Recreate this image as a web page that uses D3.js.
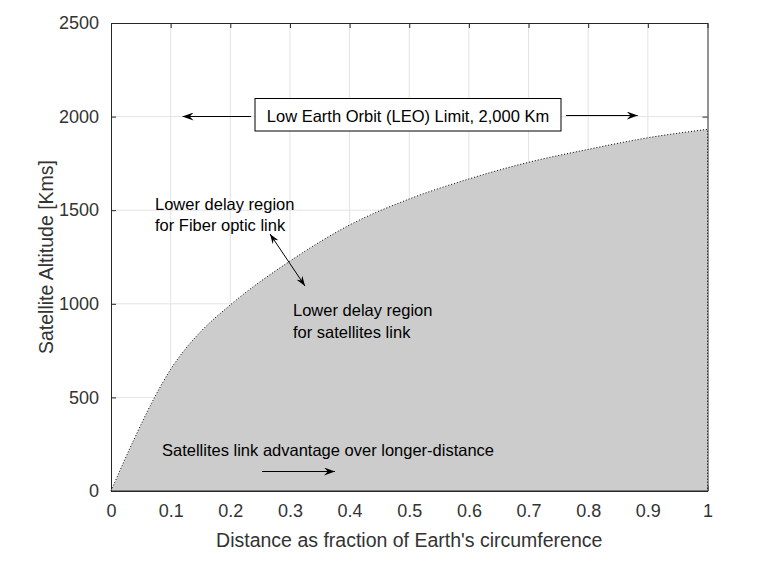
<!DOCTYPE html>
<html>
<head>
<meta charset="utf-8">
<script src="https://cdn.jsdelivr.net/npm/d3@7"></script>
<style>
  body { margin: 0; background: #fff; }
  svg { display: block; font-family: "Liberation Sans", Arial, sans-serif; }
</style>
</head>
<body>
<svg></svg>
<script>
// curve values
let distFrac = [0, 0.037, 0.073, 0.1, 0.125, 0.15, 0.2, 0.3, 0.4, 0.5, 0.6, 0.7, 0.8, 0.9, 1.0]
let altitude = [0, 265, 500, 650, 760, 850, 994, 1228, 1421, 1560, 1667, 1756, 1825, 1887, 1932]

let xTicks = [0, 0.1, 0.2, 0.3, 0.4, 0.5, 0.6, 0.7, 0.8, 0.9, 1]
let yTicks = [0, 500, 1000, 1500, 2000, 2500]

let width = 766
let height = 575
let margin = {left: 111, right: 58.5, top: 23, bottom: 84}

let axisColor = '#262626'
let labelColor = '#333333'
let gridColor = '#e3e3e3'

let svg = d3.select('svg')
  .attr('width', width)
  .attr('height', height)

let xScale = d3.scaleLinear()
  .domain([0, 1])
  .range([margin.left, width - margin.right])

let yScale = d3.scaleLinear()
  .domain([0, 2500])
  .range([height - margin.bottom, margin.top])

let x0 = xScale(0), x1 = xScale(1)
let y0 = yScale(0), y1 = yScale(2500)

// arrow heads
let defs = svg.append('defs')
let addHead = (id, len, half) => {
  defs.append('marker')
    .attr('id', id)
    .attr('viewBox', `0 ${-half} ${len} ${2 * half}`)
    .attr('refX', len)
    .attr('refY', 0)
    .attr('markerUnits', 'userSpaceOnUse')
    .attr('markerWidth', len)
    .attr('markerHeight', 2 * half)
    .attr('orient', 'auto-start-reverse')
    .append('path')
    .attr('d', `M0,${-half} L${len},0 L0,${half} L${len * 0.35},0 Z`)
    .attr('fill', '#000')
}
addHead('headBig', 11, 4)
addHead('headSmall', 10, 3.5)

// grid
let grid = svg.append('g')
grid.selectAll('.gx')
  .data(xTicks.slice(1, -1))
  .enter()
  .append('line')
  .attr('x1', d => xScale(d)).attr('x2', d => xScale(d))
  .attr('y1', y0).attr('y2', y1)
  .attr('stroke', gridColor)
grid.selectAll('.gy')
  .data(yTicks.slice(1, -1))
  .enter()
  .append('line')
  .attr('x1', x0).attr('x2', x1)
  .attr('y1', d => yScale(d)).attr('y2', d => yScale(d))
  .attr('stroke', gridColor)

// axes, ticks inward
let tickFmt = d => d3.format('')(d)
let styleAxis = (g, labels) => {
  g.selectAll('.domain').attr('stroke', axisColor)
  g.selectAll('.tick line').attr('stroke', axisColor)
  g.selectAll('.tick text')
    .attr('fill', labelColor)
    .style('font-size', '18px')
    .style('display', labels ? null : 'none')
}

svg.append('g')
  .attr('transform', `translate(0,${y1})`)
  .call(d3.axisTop(xScale).tickValues(xTicks).tickSizeInner(-5).tickSizeOuter(0))
  .call(g => styleAxis(g, false))

svg.append('g')
  .attr('transform', `translate(${x1},0)`)
  .call(d3.axisRight(yScale).tickValues(yTicks).tickSizeInner(-5).tickSizeOuter(0))
  .call(g => styleAxis(g, false))

svg.append('g')
  .attr('transform', `translate(0,${y0})`)
  .call(d3.axisBottom(xScale).tickValues(xTicks).tickFormat(tickFmt).tickSizeInner(-5).tickSizeOuter(0).tickPadding(13))
  .call(g => styleAxis(g, true))

svg.append('g')
  .attr('transform', `translate(${x0},0)`)
  .call(d3.axisLeft(yScale).tickValues(yTicks).tickFormat(tickFmt).tickSizeInner(-5).tickSizeOuter(0).tickPadding(12))
  .call(g => styleAxis(g, true))

// shaded region
let pts = distFrac.map((d, i) => [d, altitude[i]])

let area = d3.area()
  .x(d => xScale(d[0]))
  .y0(y0)
  .y1(d => yScale(d[1]))
  .curve(d3.curveMonotoneX)

svg.append('path')
  .datum(pts)
  .attr('d', area)
  .attr('fill', '#cccccc')

let line = d3.line()
  .x(d => xScale(d[0]))
  .y(d => yScale(d[1]))
  .curve(d3.curveMonotoneX)

let last = pts[pts.length - 1]
svg.append('path')
  .attr('d', line(pts) + `L${xScale(last[0])},${y0}`)
  .attr('fill', 'none')
  .attr('stroke', '#000')
  .attr('stroke-width', 1)
  .attr('stroke-dasharray', '1,2')

// bottom border over the fill
svg.append('line')
  .attr('x1', x0).attr('x2', x1)
  .attr('y1', y0).attr('y2', y0)
  .attr('stroke', axisColor)

// axis labels
svg.append('text')
  .attr('x', (x0 + x1) / 2)
  .attr('y', 546.5)
  .attr('text-anchor', 'middle')
  .attr('fill', labelColor)
  .style('font-size', '19.5px')
  .text("Distance as fraction of Earth's circumference")

svg.append('text')
  .attr('transform', `translate(53,${(y0 + y1) / 2}) rotate(-90)`)
  .attr('text-anchor', 'middle')
  .attr('fill', labelColor)
  .style('font-size', '19.5px')
  .text('Satellite Altitude [Kms]')

// annotations
let noteSize = '16.5px'

svg.append('rect')
  .attr('x', 255).attr('y', 98.5)
  .attr('width', 306).attr('height', 32.5)
  .attr('fill', '#fff')
  .attr('stroke', '#000')

svg.append('text')
  .attr('x', 408).attr('y', 122)
  .attr('text-anchor', 'middle')
  .style('font-size', noteSize)
  .text('Low Earth Orbit (LEO) Limit, 2,000 Km')

let arrow = (xa, ya, xb, yb, head, both) => {
  let a = svg.append('line')
    .attr('x1', xa).attr('y1', ya)
    .attr('x2', xb).attr('y2', yb)
    .attr('stroke', '#000')
    .attr('marker-end', `url(#${head})`)
  if (both) a.attr('marker-start', `url(#${head})`)
}

arrow(251, 116.5, xScale(0.12), 116.5, 'headBig')
arrow(566, 115.5, xScale(0.883), 115.5, 'headBig')
arrow(270, 234, 305, 286, 'headSmall', true)
arrow(262, 471.5, 335, 471.5, 'headBig')

let note = (x, y, lines) => {
  let t = svg.append('text')
    .attr('x', x).attr('y', y)
    .style('font-size', noteSize)
  lines.forEach((s, i) => {
    t.append('tspan')
      .attr('x', x)
      .attr('dy', i === 0 ? 0 : 21.5)
      .text(s)
  })
}

note(155, 209.5, ['Lower delay region', 'for Fiber optic link'])
note(293, 316, ['Lower delay region', 'for satellites link'])
note(162, 456, ['Satellites link advantage over longer-distance'])
</script>
</body>
</html>
